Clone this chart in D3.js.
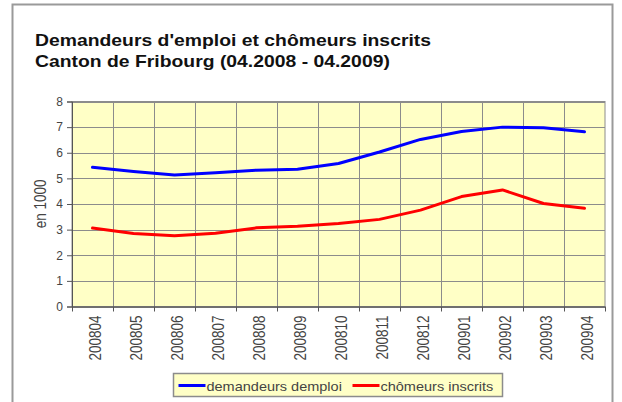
<!DOCTYPE html>
<html>
<head>
<meta charset="utf-8">
<script src="https://cdn.jsdelivr.net/npm/d3@7"></script>
<style>
  body { margin: 0; background: #fff; }
  text { font-family: "Liberation Sans", Arial, sans-serif; }
</style>
</head>
<body>
<div id="chart"></div>
<script>
// Data (thousands)
const months = ['200804', '200805', '200806', '200807', '200808', '200809', '200810',
  '200811', '200812', '200901', '200902', '200903', '200904'];
const demandeurs = [5.43, 5.27, 5.13, 5.22, 5.32, 5.36, 5.58, 6.03, 6.52, 6.83, 7.0, 6.98, 6.82];
const chomeurs = [3.06, 2.85, 2.76, 2.86, 3.07, 3.13, 3.24, 3.4, 3.76, 4.29, 4.55, 4.02, 3.83];
const yTicks = [0, 1, 2, 3, 4, 5, 6, 7, 8];
const seriesNames = ['demandeurs demploi', 'chômeurs inscrits'];
const seriesColors = ['#0000ff', '#ff0000'];

const W = 622, H = 402;
const plot = { left: 72, right: 605, top: 101.5, bottom: 306.5 };
const stretch = 1.21; // the picture's text is a bit wider than tall

const svg = d3.select('#chart')
  .append('svg')
  .attr('width', W)
  .attr('height', H);

// outer frame of the chart
svg.append('rect')
  .attr('x', 12.5).attr('y', 4.5)
  .attr('width', 600).attr('height', 420)
  .attr('fill', '#fff')
  .attr('stroke', '#9a9a9a')
  .attr('stroke-width', 2);

// title
const title = svg.append('g')
  .attr('transform', `translate(35,0) scale(${stretch},1)`);
title.append('text')
  .attr('y', 46)
  .attr('font-size', 16)
  .attr('font-weight', 'bold')
  .attr('fill', '#111')
  .text("Demandeurs d'emploi et chômeurs inscrits");
title.append('text')
  .attr('y', 67)
  .attr('font-size', 16)
  .attr('font-weight', 'bold')
  .attr('fill', '#111')
  .text('Canton de Fribourg (04.2008 - 04.2009)');

const x = d3.scaleBand()
  .domain(months)
  .range([plot.left, plot.right]);

const y = d3.scaleLinear()
  .domain([0, 8])
  .range([plot.bottom, plot.top]);

// plot background
svg.append('rect')
  .attr('x', plot.left).attr('y', plot.top)
  .attr('width', plot.right - plot.left)
  .attr('height', plot.bottom - plot.top)
  .attr('fill', '#ffffc6')
  .attr('stroke', '#8c8c8c');

// horizontal grid
svg.append('g')
  .selectAll('line')
  .data(yTicks)
  .enter()
  .append('line')
  .attr('x1', plot.left).attr('x2', plot.right)
  .attr('y1', d => Math.round(y(d)) + 0.5)
  .attr('y2', d => Math.round(y(d)) + 0.5)
  .attr('stroke', '#8c8c8c');

// vertical grid at category boundaries
svg.append('g')
  .selectAll('line')
  .data(months.slice(1))
  .enter()
  .append('line')
  .attr('x1', d => Math.round(x(d)) + 0.5)
  .attr('x2', d => Math.round(x(d)) + 0.5)
  .attr('y1', plot.top).attr('y2', plot.bottom)
  .attr('stroke', '#8c8c8c');

// y axis
const yAxis = svg.append('g')
  .attr('transform', `translate(${plot.left},0)`)
  .call(d3.axisLeft(y).tickValues(yTicks).tickSize(5).tickPadding(4));
yAxis.select('.domain').attr('stroke', '#555');
yAxis.selectAll('line').attr('stroke', '#555');
yAxis.selectAll('text').attr('font-size', 12).attr('fill', '#444')
  .style('font-family', '"Liberation Sans", Arial, sans-serif');

// x axis: ticks at band edges
const xAxis = svg.append('g')
  .attr('transform', `translate(0,${plot.bottom})`);
xAxis.append('line')
  .attr('x1', plot.left).attr('x2', plot.right)
  .attr('y1', 0.5).attr('y2', 0.5)
  .attr('stroke', '#555');
xAxis.selectAll('.edge')
  .data(months.concat(['end']))
  .enter()
  .append('line')
  .attr('class', 'edge')
  .attr('x1', d => Math.round(d === 'end' ? plot.right : x(d)) + 0.5)
  .attr('x2', d => Math.round(d === 'end' ? plot.right : x(d)) + 0.5)
  .attr('y1', 0).attr('y2', 5)
  .attr('stroke', '#555');
xAxis.selectAll('.lbl')
  .data(months)
  .enter()
  .append('text')
  .attr('class', 'lbl')
  .attr('transform', d => `translate(${x(d) + x.bandwidth() / 2 + 8},9) rotate(-90) scale(1,${stretch})`)
  .attr('text-anchor', 'end')
  .attr('font-size', 13.5)
  .attr('fill', '#444')
  .text(d => d);

// y axis title
svg.append('text')
  .attr('transform', `translate(46,${(plot.top + plot.bottom) / 2}) rotate(-90) scale(1,${stretch})`)
  .attr('text-anchor', 'middle')
  .attr('font-size', 13.5)
  .attr('fill', '#444')
  .text('en 1000');

// lines
const line = d3.line()
  .x((d, i) => x(months[i]) + x.bandwidth() / 2)
  .y(d => y(d));

[demandeurs, chomeurs].forEach((s, k) => {
  svg.append('path')
    .datum(s)
    .attr('d', line)
    .attr('fill', 'none')
    .attr('stroke', seriesColors[k])
    .attr('stroke-width', 3)
    .attr('stroke-linejoin', 'round')
    .attr('stroke-linecap', 'round');
});

// legend
const legend = svg.append('g').attr('transform', 'translate(173.5,373.5)');
legend.append('rect')
  .attr('width', 329).attr('height', 23)
  .attr('fill', '#ffffc6')
  .attr('stroke', '#8c8c8c')
  .attr('stroke-width', 1.5);
const legendX = [5, 179];
seriesNames.forEach((name, k) => {
  legend.append('line')
    .attr('x1', legendX[k]).attr('x2', legendX[k] + 27)
    .attr('y1', 12).attr('y2', 12)
    .attr('stroke', seriesColors[k])
    .attr('stroke-width', 3);
  legend.append('text')
    .attr('transform', `translate(${legendX[k] + 28},17) scale(${stretch},1)`)
    .attr('font-size', 12)
    .attr('fill', '#444')
    .text(name);
});
</script>
</body>
</html>
